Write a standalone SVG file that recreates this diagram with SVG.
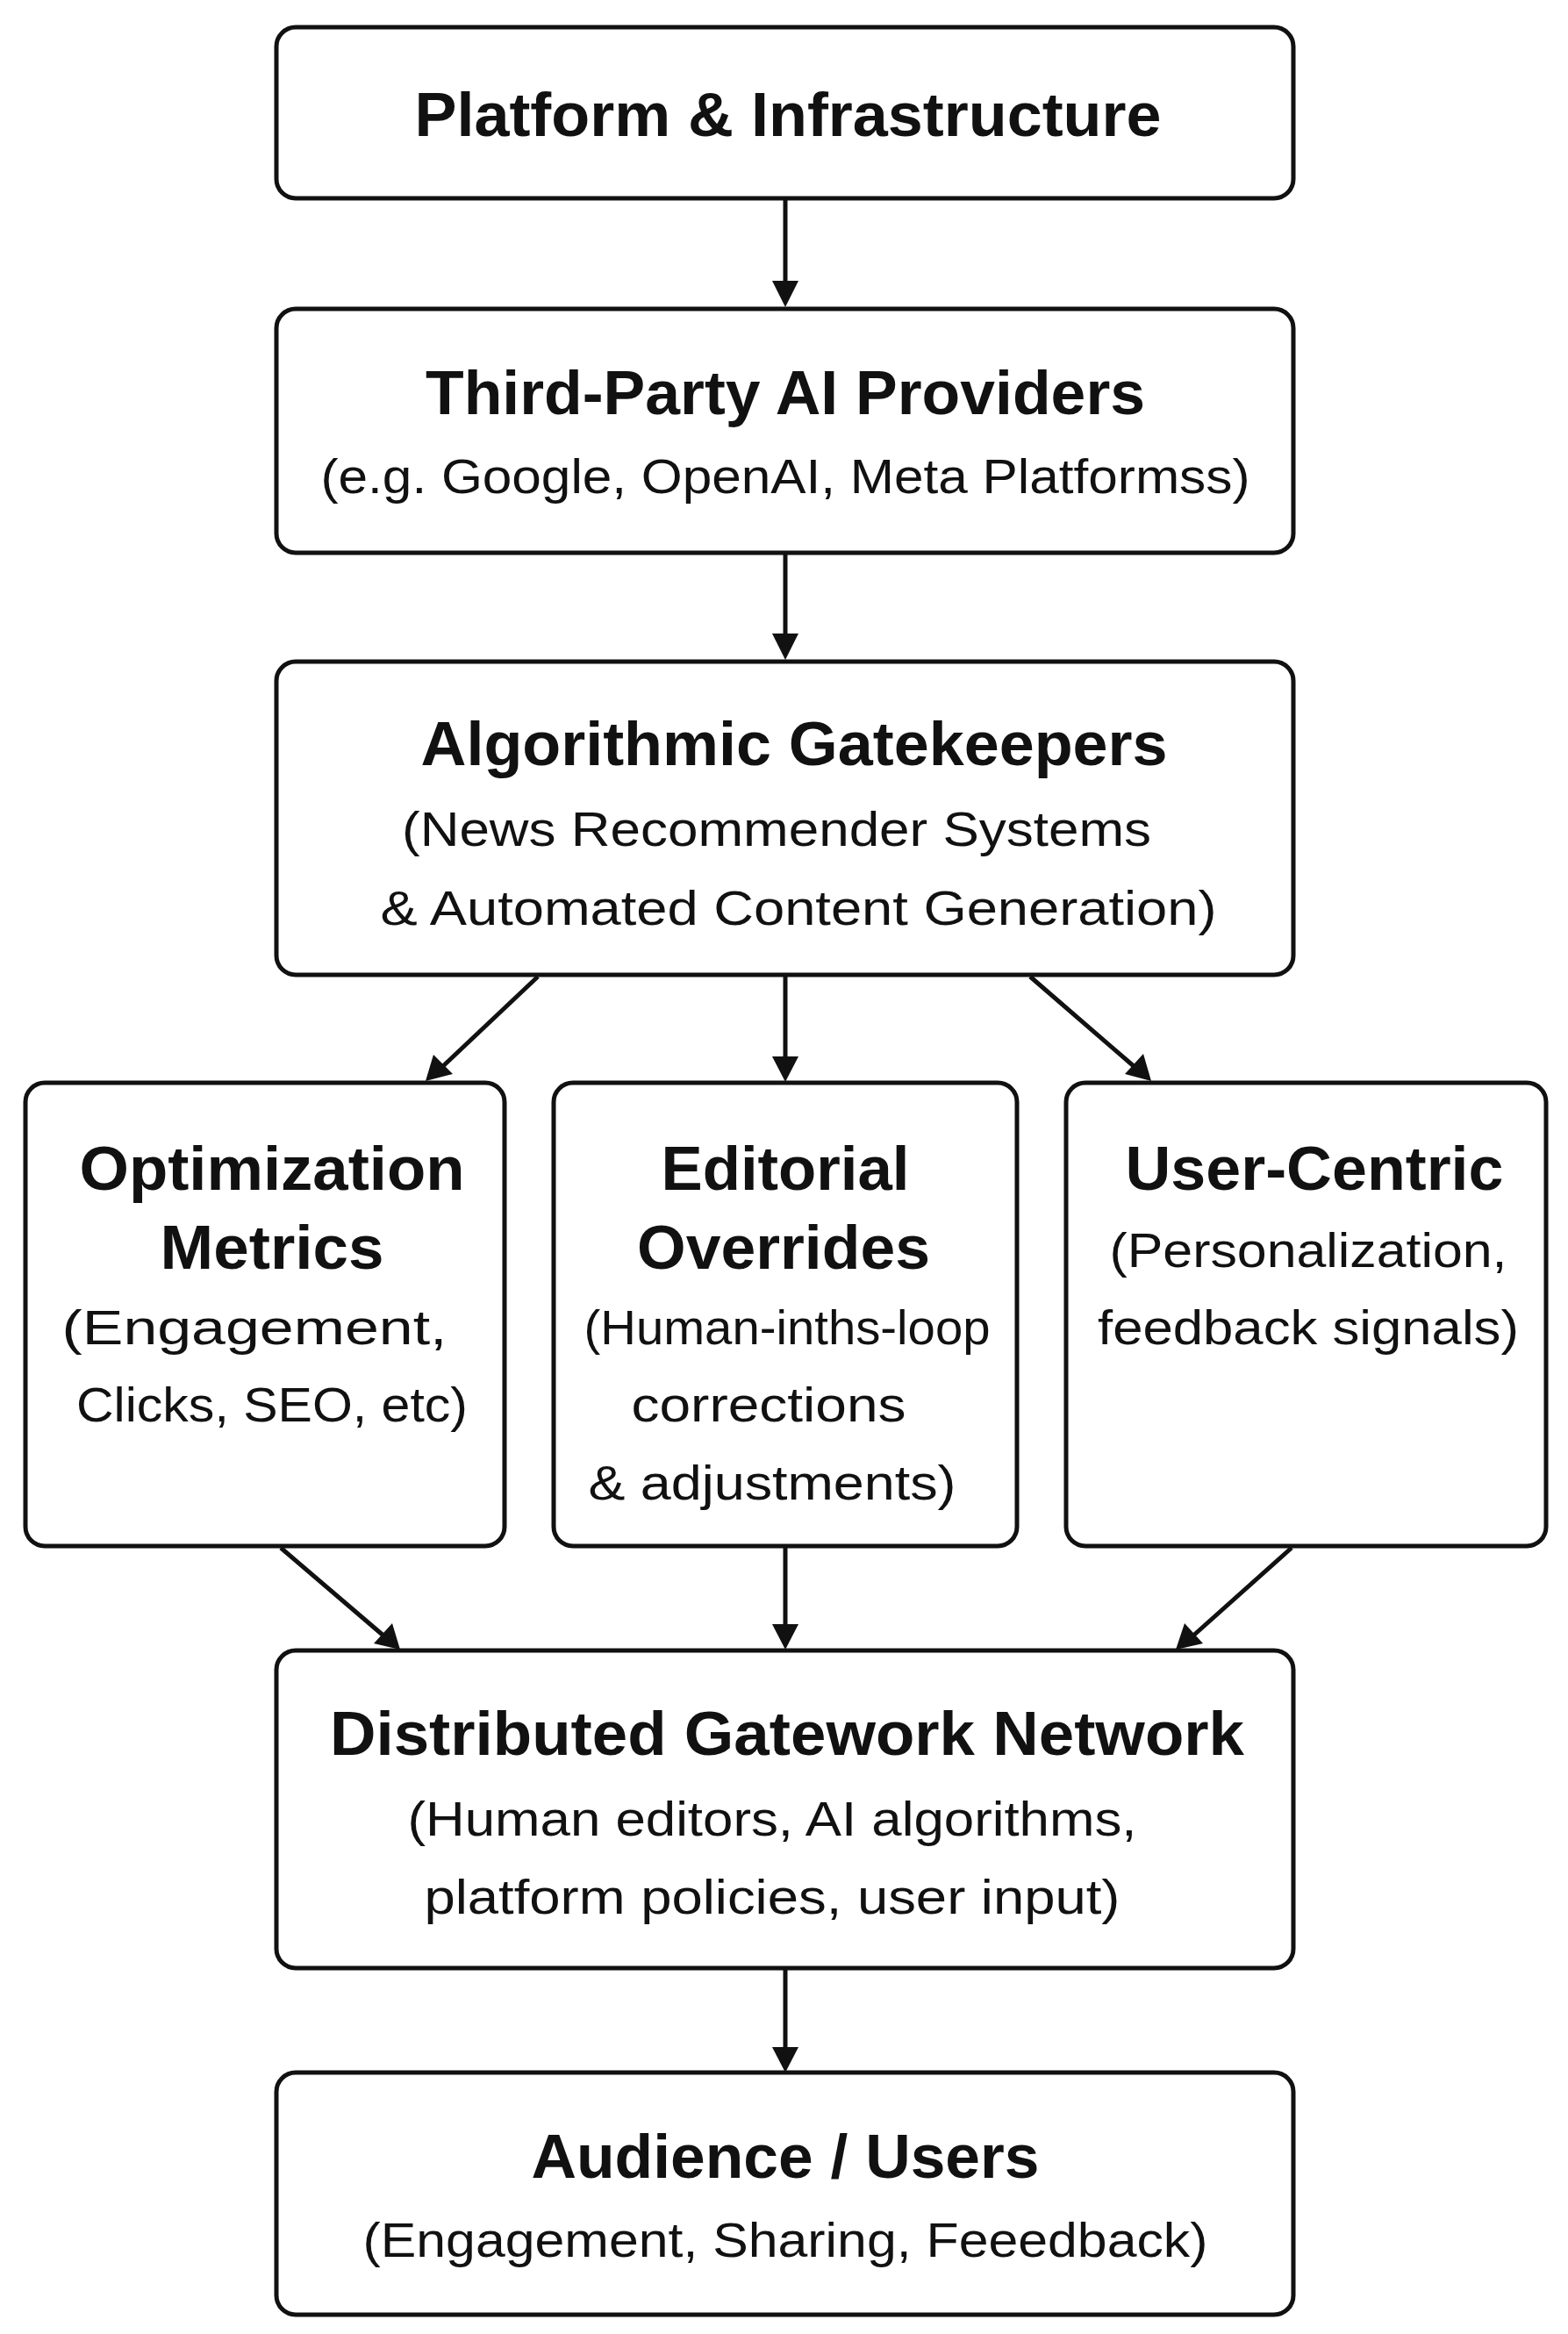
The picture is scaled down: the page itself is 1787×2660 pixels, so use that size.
<svg xmlns="http://www.w3.org/2000/svg" width="1787" height="2660" viewBox="0 0 1787 2660">
<defs>
<style>
.box{fill:#fff;stroke:#111;stroke-width:5}
.t{font-family:"Liberation Sans",Arial,sans-serif;font-size:70px;font-weight:bold;fill:#111;text-anchor:middle}
.s{font-family:"Liberation Sans",Arial,sans-serif;font-size:56px;fill:#111;text-anchor:middle}
.c{stroke:#111;stroke-width:5;fill:none}
</style>
</defs>
<rect width="1787" height="2660" fill="#fff"/>
<g id="connectors">
<line class="c" x1="895" y1="228" x2="895" y2="325"/>
<path d="M880,320 L910,320 L895,350 z" fill="#111"/>
<line class="c" x1="895" y1="632" x2="895" y2="730"/>
<path d="M880,722 L910,722 L895,752 z" fill="#111"/>
<line class="c" x1="613" y1="1113" x2="505" y2="1215"/>
<path d="M485,1232 L494,1202 L516,1224 z" fill="#111"/>
<line class="c" x1="895" y1="1113" x2="895" y2="1210"/>
<path d="M880,1204 L910,1204 L895,1233 z" fill="#111"/>
<line class="c" x1="1174" y1="1113" x2="1292" y2="1215"/>
<path d="M1312,1232 L1282,1224 L1303,1201 z" fill="#111"/>
<line class="c" x1="320" y1="1764" x2="437" y2="1864"/>
<path d="M456,1880 L426,1873 L447,1850 z" fill="#111"/>
<line class="c" x1="895" y1="1764" x2="895" y2="1858"/>
<path d="M880,1851 L910,1851 L895,1880 z" fill="#111"/>
<line class="c" x1="1472" y1="1764" x2="1360" y2="1864"/>
<path d="M1340,1880 L1350,1850 L1371,1873 z" fill="#111"/>
<line class="c" x1="895" y1="2245" x2="895" y2="2340"/>
<path d="M880,2333 L910,2333 L895,2362 z" fill="#111"/>
</g>
<g id="platform">
<rect class="box" x="315" y="31" width="1159" height="195" rx="22"/>
<text class="t" x="898" y="155" textLength="851" lengthAdjust="spacingAndGlyphs">Platform &amp; Infrastructure</text>
</g>
<g id="providers">
<rect class="box" x="315" y="352" width="1159" height="278" rx="22"/>
<text class="t" x="895" y="472" textLength="820" lengthAdjust="spacingAndGlyphs">Third-Party AI Providers</text>
<text class="s" x="895" y="562" textLength="1059" lengthAdjust="spacingAndGlyphs">(e.g. Google, OpenAI, Meta Platformss)</text>
</g>
<g id="gatekeepers">
<rect class="box" x="315" y="754" width="1159" height="357" rx="22"/>
<text class="t" x="905" y="872" textLength="851" lengthAdjust="spacingAndGlyphs">Algorithmic Gatekeepers</text>
<text class="s" x="885" y="964" textLength="854" lengthAdjust="spacingAndGlyphs">(News Recommender Systems</text>
<text class="s" x="910" y="1054" textLength="953" lengthAdjust="spacingAndGlyphs">&amp; Automated Content Generation)</text>
</g>
<g id="optimization">
<rect class="box" x="29" y="1234" width="546" height="528" rx="22"/>
<text class="t" x="310" y="1356" textLength="439" lengthAdjust="spacingAndGlyphs">Optimization</text>
<text class="t" x="310" y="1446" textLength="255" lengthAdjust="spacingAndGlyphs">Metrics</text>
<text class="s" x="290" y="1532" textLength="439" lengthAdjust="spacingAndGlyphs">(Engagement,</text>
<text class="s" x="310" y="1620" textLength="446" lengthAdjust="spacingAndGlyphs">Clicks, SEO, etc)</text>
</g>
<g id="editorial">
<rect class="box" x="631" y="1234" width="528" height="528" rx="22"/>
<text class="t" x="895" y="1356" textLength="283" lengthAdjust="spacingAndGlyphs">Editorial</text>
<text class="t" x="893" y="1446" textLength="334" lengthAdjust="spacingAndGlyphs">Overrides</text>
<text class="s" x="897" y="1532" textLength="463" lengthAdjust="spacingAndGlyphs">(Human-inths-loop</text>
<text class="s" x="876" y="1620" textLength="313" lengthAdjust="spacingAndGlyphs">corrections</text>
<text class="s" x="880" y="1709" textLength="419" lengthAdjust="spacingAndGlyphs">&amp; adjustments)</text>
</g>
<g id="usercentric">
<rect class="box" x="1215" y="1234" width="547" height="528" rx="22"/>
<text class="t" x="1498" y="1356" textLength="431" lengthAdjust="spacingAndGlyphs">User-Centric</text>
<text class="s" x="1491" y="1444" textLength="453" lengthAdjust="spacingAndGlyphs">(Personalization,</text>
<text class="s" x="1491" y="1532" textLength="480" lengthAdjust="spacingAndGlyphs">feedback signals)</text>
</g>
<g id="network">
<rect class="box" x="315" y="1881" width="1159" height="362" rx="22"/>
<text class="t" x="897" y="2000" textLength="1042" lengthAdjust="spacingAndGlyphs">Distributed Gatework Network</text>
<text class="s" x="880" y="2092" textLength="831" lengthAdjust="spacingAndGlyphs">(Human editors, AI algorithms,</text>
<text class="s" x="880" y="2181" textLength="793" lengthAdjust="spacingAndGlyphs">platform policies, user input)</text>
</g>
<g id="audience">
<rect class="box" x="315" y="2362" width="1159" height="276" rx="22"/>
<text class="t" x="895" y="2482" textLength="579" lengthAdjust="spacingAndGlyphs">Audience / Users</text>
<text class="s" x="895" y="2572" textLength="963" lengthAdjust="spacingAndGlyphs">(Engagement, Sharing, Feeedback)</text>
</g>
</svg>
